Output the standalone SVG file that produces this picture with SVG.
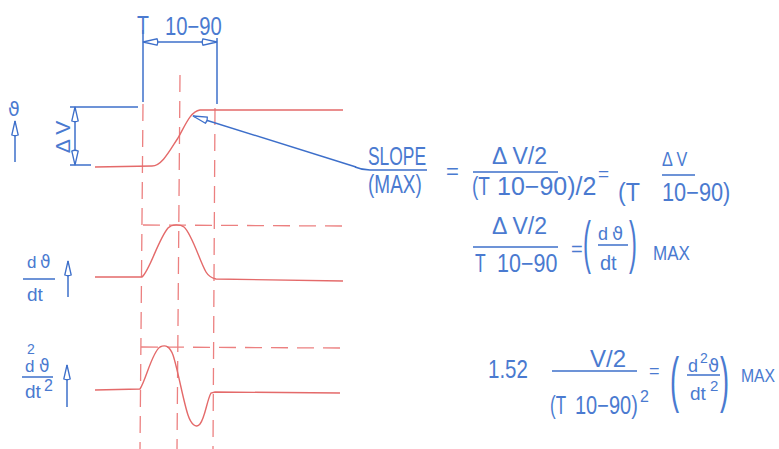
<svg xmlns="http://www.w3.org/2000/svg" width="779" height="449" viewBox="0 0 779 449">
<style>
.bl{stroke:#3d6fca;stroke-width:1.5;fill:none}
.rd{stroke:#e46a6a;stroke-width:1.4;fill:none}
.rdd{stroke:#ec8080;stroke-width:1.3;fill:none;stroke-dasharray:17 9}
.t{font-family:"Liberation Sans","DejaVu Sans",sans-serif;fill:#4a7ad0}
.th{font-family:"DejaVu Sans","Liberation Sans",sans-serif}
</style>
<defs>
<marker id="oa" viewBox="-2 -5 17 10" refX="14" refY="0" markerWidth="17" markerHeight="10" markerUnits="userSpaceOnUse" orient="auto-start-reverse">
<path d="M0,-3.2 L14,0 L0,3.2 Q-1.5,0 0,-3.2 Z" fill="#fff" stroke="#3d6fca" stroke-width="1.3"/>
</marker>
</defs>
<rect width="779" height="449" fill="#fff"/>

<g id="guides">
<line class="rdd" x1="143" y1="104" x2="140" y2="449"/>
<line class="rdd" x1="180" y1="75" x2="177" y2="449"/>
<line class="rdd" x1="215" y1="108" x2="213" y2="449"/>
<line class="rdd" x1="143" y1="225" x2="343" y2="226"/>
<line class="rdd" x1="141" y1="347" x2="340" y2="348"/>
</g>

<g id="curves">
<path class="rd" d="M95,167 L152,166 C162,166 170,150 178,138 C186,124 190,112 200,110 L343,110"/>
<path class="rd" d="M95,277 L142,277 C150,270 158,240 168,228 C172,224 180,224 184,227 C192,234 200,262 206,272 C209,277 212,278 216,279 L343,281"/>
<path class="rd" d="M95,390 L140,389 C146,380 152,352 160,347 C166,344 170,347 173,355 C178,370 183,400 188,415 C191,424 196,429 200,424 C205,418 207,400 211,393 L215,392 L340,393"/>
</g>

<g id="dimension-t">
<line class="bl" x1="143" y1="30" x2="143" y2="102"/>
<line class="bl" x1="217" y1="38" x2="217" y2="104"/>
<line class="bl" x1="143" y1="42" x2="217" y2="42" marker-start="url(#oa)" marker-end="url(#oa)"/>
<text class="t" transform="translate(137,34) scale(0.78,1)" font-size="25">T</text>
<text class="t" transform="translate(165,35) scale(0.81,1)" font-size="25">10−90</text>
</g>

<g id="dimension-dv">
<line class="bl" x1="70" y1="107" x2="138" y2="107"/>
<line class="bl" x1="70" y1="165" x2="91" y2="165"/>
<line class="bl" x1="75" y1="107" x2="75" y2="165" marker-start="url(#oa)" marker-end="url(#oa)"/>
<text class="t" transform="translate(70,137) rotate(-90)" font-size="21" text-anchor="middle">Δ V</text>
</g>

<g id="axis-theta">
<text class="t" x="8" y="116" font-size="19"><tspan class="th">ϑ</tspan></text>
<line class="bl" x1="15" y1="162" x2="15" y2="121" marker-end="url(#oa)"/>
</g>

<g id="axis-dtheta">
<text class="t" x="27" y="268" font-size="17">d<tspan class="th" x="40">ϑ</tspan></text>
<line class="bl" x1="23" y1="279" x2="55" y2="279"/>
<text class="t" x="27" y="301" font-size="19">dt</text>
<line class="bl" x1="68" y1="297" x2="68" y2="261" marker-end="url(#oa)"/>
</g>

<g id="axis-d2theta">
<text class="t" x="27" y="354" font-size="14">2</text>
<text class="t" font-size="17"><tspan x="25" y="372">d</tspan><tspan class="th" x="39" y="372">ϑ</tspan></text>
<line class="bl" x1="22" y1="377" x2="53" y2="377"/>
<text class="t" font-size="19"><tspan x="25" y="398">dt</tspan><tspan x="44" y="391" font-size="16">2</tspan></text>
<line class="bl" x1="67" y1="407" x2="67" y2="365" marker-end="url(#oa)"/>
</g>

<g id="connectors">
<path class="bl" d="M356,167 L193,116" marker-end="url(#oa)"/>
<path class="bl" d="M355,167 Q362,170 370,170 L427,170"/>
</g>

<g id="eq-slope">
<text class="t" transform="translate(368,165) scale(0.67,1)" font-size="26">SLOPE</text>
<text class="t" transform="translate(368,193) scale(0.76,1)" font-size="25">(MAX)</text>
<text class="t" x="446" y="179" font-size="22">=</text>
<text class="t" x="492" y="164" font-size="23">Δ V/2</text>
<line class="bl" x1="473" y1="172" x2="558" y2="172"/>
<text class="t" transform="translate(472,195) scale(0.76,1)" font-size="25">(T</text>
<text class="t" x="497" y="195" font-size="25">10−90)/2</text>
<text class="t" x="598" y="180" font-size="19">=</text>
<text class="t" transform="translate(618,201) scale(0.93,1)" font-size="25">(T</text>
<text class="t" transform="translate(662,166) scale(0.81,1)" font-size="20">Δ V</text>
<line class="bl" x1="662" y1="175" x2="695" y2="175"/>
<text class="t" transform="translate(662,201) scale(0.87,1)" font-size="25">10−90)</text>
</g>

<g id="eq-derivative">
<text class="t" x="492" y="234" font-size="23">Δ V/2</text>
<line class="bl" x1="473" y1="247" x2="558" y2="247"/>
<text class="t" transform="translate(475,272) scale(0.7,1)" font-size="25">T</text>
<text class="t" transform="translate(497,272) scale(0.86,1)" font-size="25">10−90</text>
<text class="t" x="571" y="256" font-size="20">=</text>
<text class="t" transform="translate(583,262) scale(0.41,1)" font-size="58">(</text>
<text class="t" x="598" y="240" font-size="18">d<tspan class="th" x="612">ϑ</tspan></text>
<line class="bl" x1="598" y1="245" x2="628" y2="245"/>
<text class="t" x="600" y="270" font-size="20">dt</text>
<text class="t" transform="translate(629,262) scale(0.41,1)" font-size="58">)</text>
<text class="t" transform="translate(653,260) scale(0.81,1)" font-size="21">MAX</text>
</g>

<g id="eq-second">
<text class="t" transform="translate(488,378) scale(0.82,1)" font-size="25">1.52</text>
<text class="t" x="590" y="367" font-size="24">V/2</text>
<line class="bl" x1="552" y1="371" x2="637" y2="371"/>
<text class="t" transform="translate(550,414) scale(0.68,1)" font-size="25">(T</text>
<text class="t" transform="translate(575,414) scale(0.8,1)" font-size="25">10−90)</text>
<text class="t" x="640" y="402" font-size="16">2</text>
<text class="t" x="649" y="377" font-size="18">=</text>
<text class="t" transform="translate(670,400) scale(0.44,1)" font-size="62">(</text>
<text class="t" font-size="18"><tspan x="688" y="372">d</tspan><tspan x="700" y="363" font-size="14">2</tspan><tspan class="th" x="708" y="372">ϑ</tspan></text>
<line class="bl" x1="687" y1="375" x2="720" y2="375"/>
<text class="t" font-size="19"><tspan x="690" y="400">dt</tspan><tspan x="710" y="391" font-size="15">2</tspan></text>
<text class="t" transform="translate(720,400) scale(0.44,1)" font-size="62">)</text>
<text class="t" transform="translate(741,382) scale(0.83,1)" font-size="19">MAX</text>
</g>
</svg>
